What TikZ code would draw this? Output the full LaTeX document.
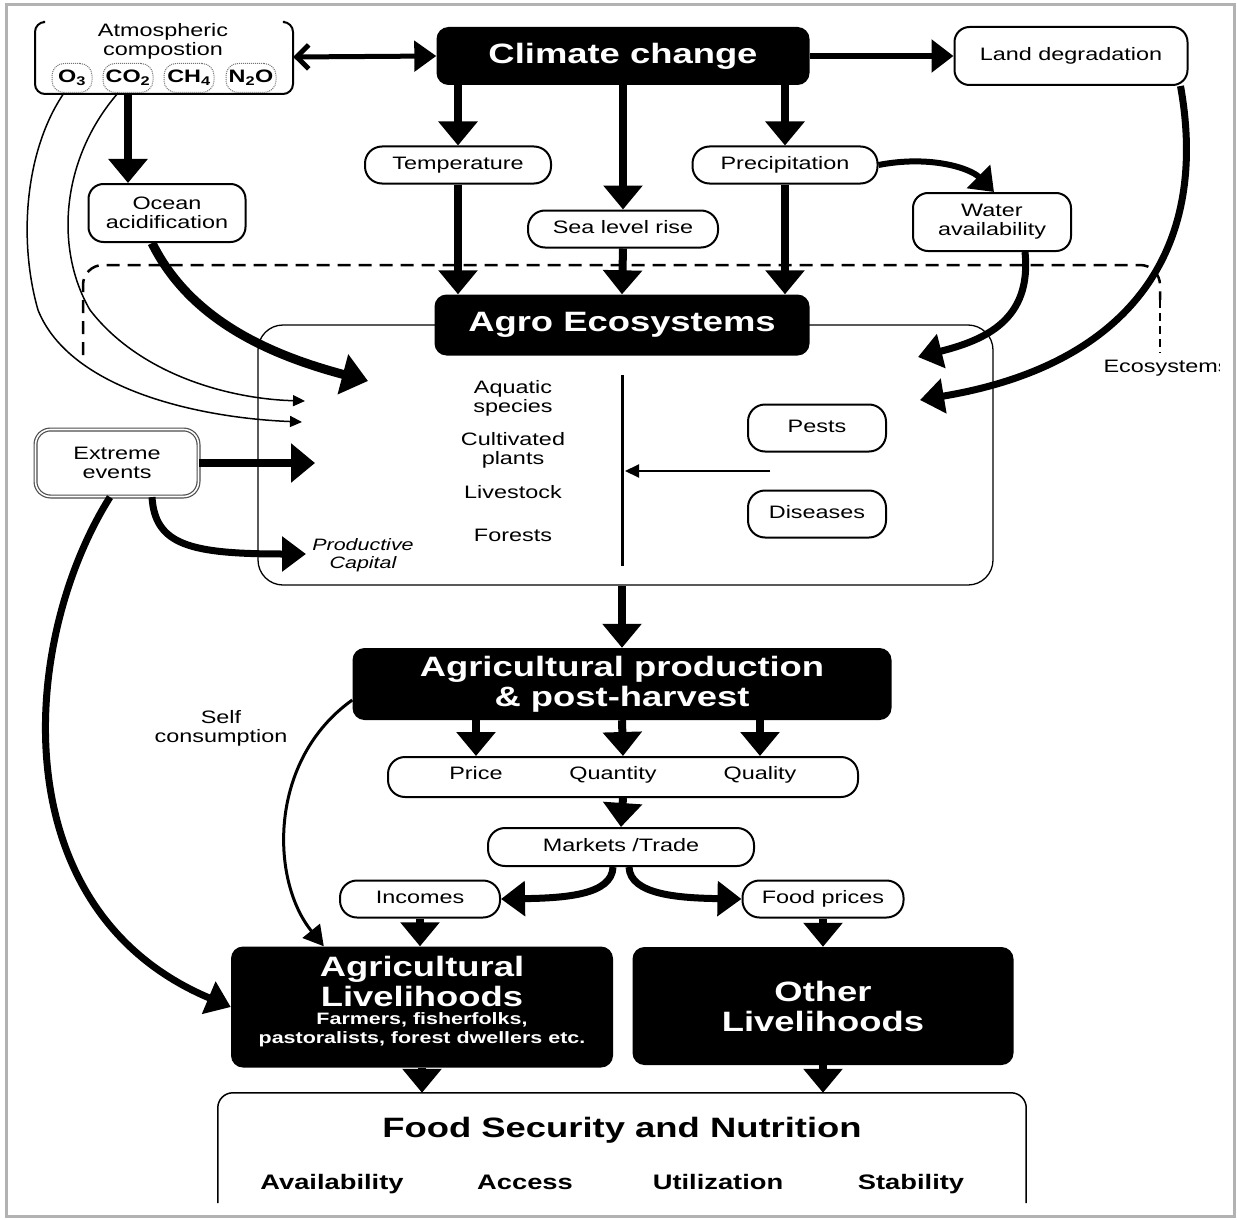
\documentclass[tikz,border=0pt]{standalone}
\usepackage{fontspec}
\setmainfont{Liberation Sans}[FakeStretch=1.3]
\usetikzlibrary{arrows.meta,calc}
\begin{document}
\begin{tikzpicture}[x=1pt,y=-1pt,
  blk/.style={fill=black, text=white, rounded corners=12pt, align=center, inner sep=0pt},
  big/.style={font=\bfseries\fontsize{28}{30}\selectfont},
  reg/.style={font=\fontsize{18}{19}\selectfont},
  line/.style={text height=13pt, text depth=4pt},
  pill/.style={draw, line width=2pt, rounded corners=17pt, align=center, inner sep=0pt, fill=white, reg},
  rbox/.style={draw, line width=2pt, rounded corners=15pt, align=center, inner sep=0pt, fill=white, reg},
  gas/.style={draw=black!55, densely dotted, line width=1pt, rounded corners=12pt, inner sep=0pt, minimum height=29pt, font=\bfseries\fontsize{18}{18}\selectfont},
  fat/.style={line width=8pt, -{Triangle[width=38pt,length=24pt]}},
  med/.style={line width=6pt, -{Triangle[width=32pt,length=22pt]}},
  cur/.style={line width=7pt, -{Triangle[width=34pt,length=24pt]}},
  thinarr/.style={line width=1.5pt, -{Triangle[width=11pt,length=12pt]}},
  pillar/.style={font=\bfseries\fontsize{21}{22}\selectfont, text height=15pt, text depth=5pt},
]
\useasboundingbox (0,0) rectangle (1237,1220);
\fill[white] (0,0) rectangle (1237,1220);
\draw[black!30, line width=3pt] (6,5) rectangle (1234,1216);

% Ecosystems dashed region
\draw[line width=2.5pt, dash pattern=on 13pt off 8pt, rounded corners=20pt] (83,355) -- (83,265) -- (1160,265) -- (1160,300);
\draw[line width=2.5pt, dash pattern=on 8pt off 5pt] (1160,300) -- (1160,353);
\begin{scope}
\clip (0,0) rectangle (1219,1220);
\node[reg, anchor=west] (eco) at (1100,368) {Ecosystems};
\end{scope}

% Atmospheric composition
\node[minimum width=258pt, minimum height=74pt, inner sep=0pt] (atm) at (164,57) {};
\draw[line width=2pt, rounded corners=10pt] (43,22) -- (35,22) -- (35,94) -- (293,94) -- (293,22) -- (285,22);
\node[reg, align=center] (atmt) at (163,41) {Atmospheric\\compostion};
\node[gas, minimum width=40pt, fill=white] (o3) at (72,78) {O\textsubscript{3}};
\node[gas, minimum width=50pt, fill=white] (co2) at (128,78) {CO\textsubscript{2}};
\node[gas, minimum width=50pt, fill=white] (ch4) at (189,78) {CH\textsubscript{4}};
\node[gas, minimum width=50pt, fill=white] (n2o) at (251,78) {N\textsubscript{2}O};

% Climate change
\node[blk, big, minimum width=373pt, minimum height=58pt] (clim) at (623,56) {Climate change};
\node[rbox, minimum width=233pt, minimum height=58pt] (land) at (1071,56) {Land degradation};
\node[pill, line, minimum width=186pt, minimum height=37pt] (temp) at (458,165) {Temperature};
\node[pill, line, minimum width=190pt, minimum height=37pt] (sea) at (623,229) {Sea level rise};
\node[pill, line, minimum width=185pt, minimum height=37pt] (prec) at (785,165) {Precipitation};
\node[rbox, minimum width=158pt, minimum height=58pt] (water) at (992,222) {Water\\availability};
\node[rbox, minimum width=157pt, minimum height=58pt] (ocean) at (167,213) {Ocean\\acidification};

% Agro ecosystems
\node[draw, line width=1.3pt, rounded corners=25pt, minimum width=735pt, minimum height=260pt] (agrobox) at (625.5,455) {};
\node[blk, big, minimum width=375pt, minimum height=61pt] (agro) at (622,325) {Agro Ecosystems};
\node[reg, align=center] (aqu) at (513,398) {Aquatic\\species};
\node[reg, align=center] (cul) at (513,450) {Cultivated\\plants};
\node[reg, line] (liv) at (513,494) {Livestock};
\node[reg, line] (for) at (513,537) {Forests};
\coordinate (divt) at (622,375);
\coordinate (divb) at (622,566);
\draw[line width=3pt] (divt) -- (divb);
\node[pill, line, minimum width=138pt, minimum height=47pt] (pests) at (817,428) {Pests};
\node[pill, line, minimum width=138pt, minimum height=47pt] (dis) at (817,514) {Diseases};
\coordinate (pdsrc) at (770,471);
\draw[line width=2pt, -{Triangle[width=13pt,length=14pt]}, shorten >=3pt] (pdsrc) -- (pdsrc -| divt);
\node[font=\itshape\fontsize{16.5}{18}\selectfont, align=center] (pcap) at (363,555) {Productive\\Capital};

\node[draw=black!70, double=white, double distance=1.6pt, line width=1.2pt, rounded corners=15pt, minimum width=163pt, minimum height=67pt, align=center, reg, inner sep=0pt] (ext) at (117,463) {Extreme\\events};

% production chain
\node[blk, big, minimum width=539pt, minimum height=72pt] (aprod) at (622,684) {Agricultural production\\\& post-harvest};
\node[pill, minimum width=470pt, minimum height=40pt] (pqq) at (623,777) {};
\node[reg, line] (price) at (476,775) {Price};
\node[reg, line] (quant) at (613,775) {Quantity};
\node[reg, line] (qual) at (760,775) {Quality};
\node[pill, line, minimum width=266pt, minimum height=38pt] (mkt) at (621,847) {Markets /Trade};
\node[pill, line, minimum width=160pt, minimum height=37pt] (inc) at (420,899) {Incomes};
\node[pill, line, minimum width=161pt, minimum height=37pt] (fpr) at (823,899) {Food prices};
\node[reg, align=center] (self) at (221,728) {Self\\consumption};

\node[blk, minimum width=382pt, minimum height=121pt] (aliv) at (422,1007) {};
\node[big, text=white, align=center] (alivt) at (422,981) {Agricultural\\Livelihoods};
\node[font=\bfseries\fontsize{16.5}{19}\selectfont, text=white, align=center] (alivs) at (422,1030) {Farmers, fisherfolks,\\pastoralists, forest dwellers etc.};
\node[blk, big, minimum width=381pt, minimum height=118pt] (oliv) at (823,1006) {Other\\Livelihoods};

\node[minimum width=808pt, minimum height=110pt, inner sep=0pt] (fsn) at (622,1148) {};
\draw[line width=1.5pt, rounded corners=15pt] (fsn.south west) -- (fsn.north west) -- (fsn.north east) -- (fsn.south east);
\node[big] (fsnt) at (622,1130) {Food Security and Nutrition};
\node[pillar] (avail) at (332,1184) {Availability};
\node[pillar] (acc) at (525,1184) {Access};
\node[pillar] (util) at (718,1184) {Utilization};
\node[pillar] (stab) at (911,1184) {Stability};

% ---- connectors ----
\draw[line width=5pt, {Straight Barb[width=24pt,length=12pt]}-{Triangle[width=30pt,length=22pt]}] (atm.east) -- (clim.west);
\draw[med] (clim.east) -- (land.west);
\draw[fat] (co2.south) -- (co2.south |- ocean.north);
\draw[fat] (clim.south -| temp.north) -- (temp.north);
\draw[fat] (clim.south) -- (sea.north);
\draw[fat] (clim.south -| prec.north) -- (prec.north);
\draw[fat] (temp.south) -- (temp.south |- agro.north);
\draw[fat] (sea.south) -- (agro.north);
\draw[fat] (prec.south) -- (prec.south |- agro.north);
\draw[med] (prec.east) .. controls (930,155) and (970,168) .. ($(water.north)+(2,0)$);

\coordinate (tipocean) at (368,381);
\coordinate (tipa) at (305,401);
\coordinate (tipb) at (302,422);
\coordinate (tipext) at (315,463);
\coordinate (tippc) at (306,554);
\coordinate (tipwat) at (918,357);
\coordinate (tipland) at (920,400);

\draw[line width=9pt, -{Triangle[width=40pt,length=26pt]}] ($(ocean.south)+(-15,0)$) .. controls (190,320) and (270,355) .. (tipocean);
\draw[thinarr] ($(o3.south)+(-8,0)$) .. controls (25,150) and (18,240) .. (38,310) .. controls (70,390) and (200,418) .. (tipb);
\draw[thinarr] ($(co2.south)+(-10,0)$) .. controls (60,160) and (55,250) .. (90,310) .. controls (140,375) and (230,399) .. (tipa);
\draw[cur] ($(water.south)+(33,0)$) .. controls (1032,320) and (985,340) .. (tipwat);
\draw[cur] ($(land.south east)+(-8,0)$) .. controls (1210,250) and (1130,365) .. (tipland);
\draw[fat] (ext.east) -- (tipext);
\draw[line width=7pt, -{Triangle[width=34pt,length=24pt]}] ($(ext.south)+(35,0)$) .. controls (155,545) and (190,554) .. (tippc);
\draw[line width=7pt, -{Triangle[width=34pt,length=24pt]}] ($(ext.south)+(-7,0)$) .. controls (20,640) and (0,910) .. (aliv.west);

\draw[fat] (agrobox.south -| agro) -- (aprod.north);
\draw[fat] (aprod.south -| price) -- (pqq.north -| price);
\draw[fat] (aprod.south) -- (pqq.north);
\draw[fat] (aprod.south -| qual) -- (pqq.north -| qual);
\draw[fat] (pqq.south) -- (mkt.north);
\draw[cur] ($(mkt.south)+(-8,0)$) .. controls (612,895) and (565,898) .. (inc.east);
\draw[cur] ($(mkt.south)+(8,0)$) .. controls (630,895) and (680,898) .. (fpr.west);
\draw[line width=3pt, -{Triangle[width=22pt,length=20pt]}] ($(aprod.west)+(0,16)$) .. controls (268,760) and (270,880) .. ($(aliv.north west)+(93,0)$);
\draw[fat] (inc.south) -- (inc.south |- aliv.north);
\draw[fat] (fpr.south) -- (fpr.south |- oliv.north);
\draw[fat] (aliv.south) -- (aliv.south |- fsn.north);
\draw[fat] (oliv.south) -- (oliv.south |- fsn.north);
\end{tikzpicture}
\end{document}
